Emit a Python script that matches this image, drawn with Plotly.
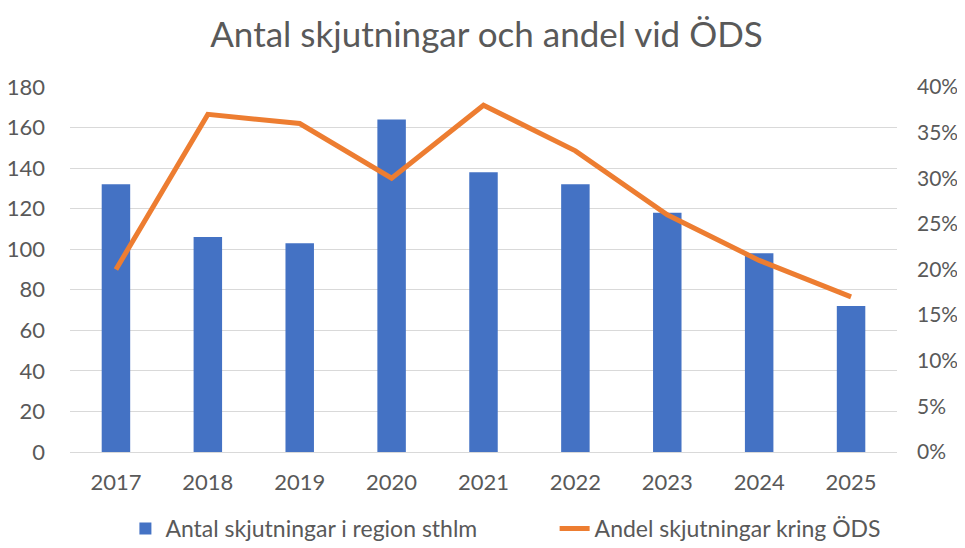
import plotly.graph_objects as go

years = ["2017", "2018", "2019", "2020", "2021", "2022", "2023", "2024", "2025"]
shootings = [132, 106, 103, 164, 138, 132, 118, 98, 72]
share_ods = [0.20, 0.37, 0.36, 0.30, 0.38, 0.33, 0.26, 0.21, 0.17]

FONT = "Lato, Noto Sans, sans-serif"
GREY = "#595959"

fig = go.Figure()
fig.add_trace(go.Bar(
    x=years, y=shootings, name="Antal skjutningar i region sthlm",
    marker=dict(color="#4472C4", line=dict(width=0)), width=0.31, yaxis="y",
    legend="legend",
))
fig.add_trace(go.Scatter(
    x=years, y=share_ods, name="Andel skjutningar kring ÖDS",
    mode="lines", line=dict(color="#ED7D31", width=5), yaxis="y2",
    legend="legend2",
))

legend_common = dict(orientation="h", yref="container", y=0.036, yanchor="middle",
                     font=dict(size=23, color=GREY), itemwidth=30, bgcolor="rgba(0,0,0,0)")

fig.update_layout(
    width=957, height=540,
    margin=dict(l=62, r=68, t=79, b=96, autoexpand=False),
    paper_bgcolor="white", plot_bgcolor="white",
    font=dict(family=FONT, color=GREY, size=22),
    title=dict(text="Antal skjutningar och andel vid ÖDS", x=0.5, xanchor="center",
               y=0.95, yanchor="middle", font=dict(size=35, color=GREY, family=FONT)),
    xaxis=dict(showgrid=False, showline=False, ticks="", tickfont=dict(size=22, color=GREY),
               ticklabelstandoff=15),
    yaxis=dict(range=[0, 180], dtick=20, showgrid=True, gridcolor="#D9D9D9", gridwidth=1.3,
               zeroline=True, zerolinecolor="#D9D9D9", zerolinewidth=1.3,
               tickfont=dict(size=22, color=GREY), ticks="", ticklabelstandoff=24),
    yaxis2=dict(range=[0, 0.40], dtick=0.05, tickformat=".0%", overlaying="y", side="right",
                showgrid=False, zeroline=False, tickfont=dict(size=21, color=GREY),
                ticks="", ticklabelstandoff=19),
    legend=dict(x=0.067, xanchor="left", **legend_common),
    legend2=dict(x=0.586, xanchor="left", **legend_common),
    showlegend=True,
)

fig.write_html("out.html")
